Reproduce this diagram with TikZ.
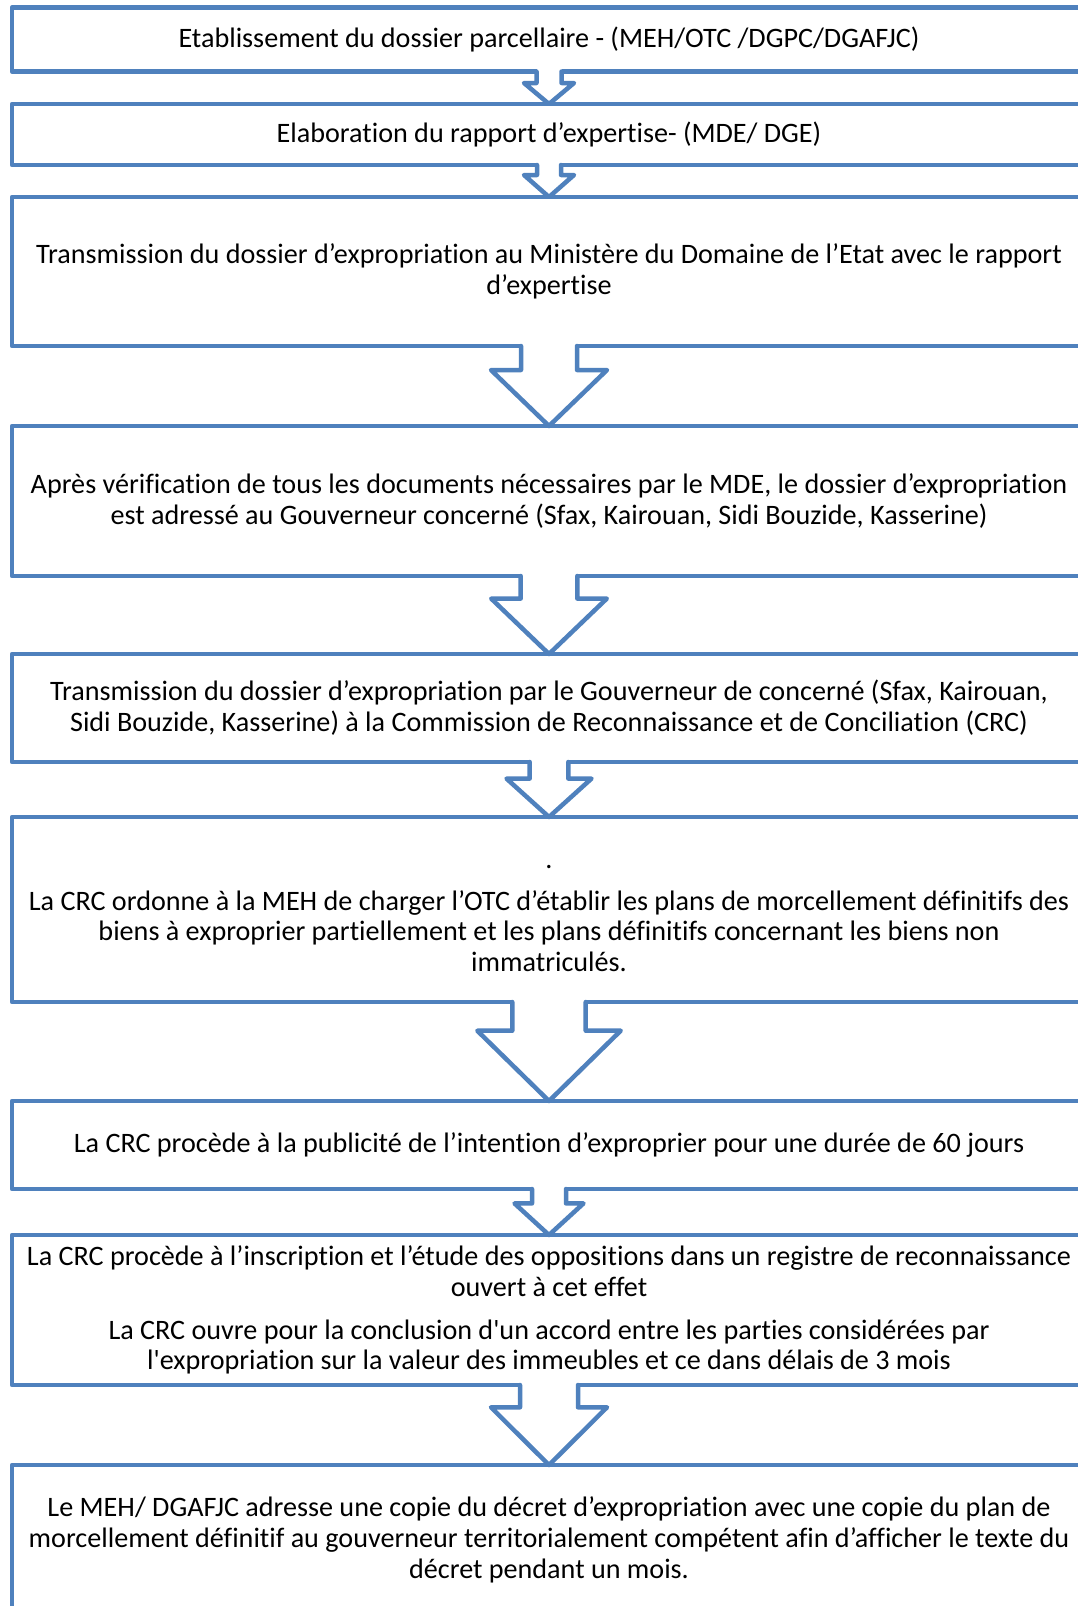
\documentclass[tikz,border=0pt]{standalone}
\usepackage{fontspec}
\newfontfamily\cf{Carlito}[Ligatures=NoCommon]
\usetikzlibrary{calc}
\definecolor{ob}{RGB}{79,129,189}
\tikzset{
 box/.style={draw=ob, line width=4.5pt, line join=round, rectangle, minimum width=1074pt,
   inner sep=0pt, outer sep=0pt, align=center, font=\cf\fontsize{28.15}{30.7}\selectfont, text=black},
 arrowline/.style={draw=ob, line width=4.5pt, line join=round, line cap=round}
}
\newcommand\blockarrow[5]{%
 \fill[white] ([xshift=-#3pt,yshift=3pt]#1.south) rectangle ([xshift=#3pt,yshift=-#5pt]#1.south);
 \draw[arrowline] ([xshift=-#3pt]#1.south) -- ([xshift=-#3pt,yshift=-#5pt]#1.south)
   -- ([xshift=-#4pt,yshift=-#5pt]#1.south) -- (#2.north)
   -- ([xshift=#4pt,yshift=-#5pt]#1.south) -- ([xshift=#3pt,yshift=-#5pt]#1.south)
   -- ([xshift=#3pt]#1.south);
}
\begin{document}
\begin{tikzpicture}[x=1pt,y=-1pt]
\useasboundingbox (0,0) rectangle (1078,1606);
\clip (0,0) rectangle (1078,1606);
\fill[white] (0,0) rectangle (1078,1606);

\node[box, minimum height=64pt] (b1) at (549,39.5) {Etablissement du dossier parcellaire - (MEH/OTC /DGPC/DGAFJC)};
\node[box, minimum height=61pt] (b2) at (549,134.5) {Elaboration du rapport d’expertise- (MDE/ DGE)};
\node[box, minimum height=149pt] (b3) at (549,271.5) {Transmission du dossier d’expropriation au Ministère du Domaine de l’Etat avec le rapport\\ d’expertise};
\node[box, minimum height=150pt] (b4) at (549,501) {Après vérification de tous les documents nécessaires par le MDE, le dossier d’expropriation\\ est adressé au Gouverneur concerné (Sfax, Kairouan, Sidi Bouzide, Kasserine)};
\node[box, minimum height=108pt] (b5) at (549,708) {Transmission du dossier d’expropriation par le Gouverneur de concerné (Sfax, Kairouan,\\ Sidi Bouzide, Kasserine) à la Commission de Reconnaissance et de Conciliation (CRC)};
\node[box, minimum height=185pt] (b6) at (549,909.5) {\strut.\\[11pt] La CRC ordonne à la MEH de charger l’OTC d’établir les plans de morcellement définitifs des\\ biens à exproprier partiellement et les plans définitifs concernant les biens non\\ immatriculés.};
\node[box, minimum height=88pt] (b7) at (549,1145) {La CRC procède à la publicité de l’intention d’exproprier pour une durée de 60 jours};
\node[box, minimum height=150pt] (b8) at (549,1310) {La CRC procède à l’inscription et l’étude des oppositions dans un registre de reconnaissance\\ ouvert à cet effet\\[12pt] La CRC ouvre pour la conclusion d'un accord entre les parties considérées par\\ l'expropriation sur la valeur des immeubles et ce dans délais de 3 mois};
\node[box, minimum height=150pt] (b9) at (549,1540) {Le MEH/ DGAFJC adresse une copie du décret d’expropriation avec une copie du plan de\\ morcellement définitif au gouverneur territorialement compétent afin d’afficher le texte du\\ décret pendant un mois.};

\blockarrow{b1}{b2}{12.5}{25}{11.5}
\blockarrow{b2}{b3}{12}{25}{10}
\blockarrow{b3}{b4}{28}{58}{24}
\blockarrow{b4}{b5}{28.3}{57.8}{22.6}
\blockarrow{b5}{b6}{19.3}{42.5}{16.6}
\blockarrow{b6}{b7}{36.7}{71.7}{28.7}
\blockarrow{b7}{b8}{17}{34.5}{14.4}
\blockarrow{b8}{b9}{29}{58}{22.3}
\end{tikzpicture}
\end{document}
